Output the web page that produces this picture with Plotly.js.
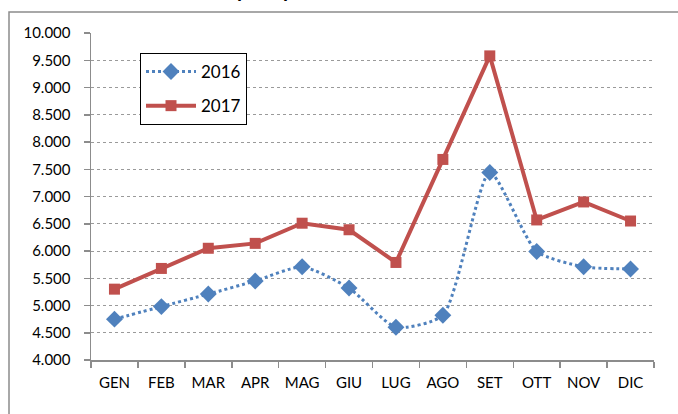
<!DOCTYPE html>
<html>
<head>
<meta charset="utf-8">
<script src="https://cdn.plot.ly/plotly-3.0.1.min.js"></script>
<style>html,body{margin:0;padding:0;background:#fff;}#chart{width:678px;height:414px;}</style>
</head>
<body>
<div id="chart"></div>
<script>
var months = ['GEN','FEB','MAR','APR','MAG','GIU','LUG','AGO','SET','OTT','NOV','DIC'];
var values2016 = [4750, 4980, 5210, 5450, 5710, 5320, 4600, 4820, 7440, 5990, 5710, 5670];
var values2017 = [5300, 5680, 6050, 6140, 6510, 6390, 5790, 7680, 9580, 6570, 6900, 6550];
var yTicks = [4000, 4500, 5000, 5500, 6000, 6500, 7000, 7500, 8000, 8500, 9000, 9500, 10000];
var chartTitle = 'Andamento spesa per mese a confronto, anni 2016 e 2017';

var W = 678, H = 414;
var L = 91, R = 24, T = 33, B = 54;
var pw = W - L - R, ph = H - T - B;
function px2x(p){ return (p - L) / pw; }
function px2y(p){ return (H - B - p) / ph; }

var fontFam = 'Lato, "Open Sans", sans-serif';

var traces = [
  {
    x: months, y: values2016, name: '2016', type: 'scatter', mode: 'lines+markers',
    legendgroup: 'a',
    line: {color: '#4F81BD', width: 3, dash: 'dot', shape: 'spline', smoothing: 0.6},
    marker: {symbol: 'diamond', size: 13, color: '#4F81BD'}
  },
  {
    x: months, y: values2017, name: '2017', type: 'scatter', mode: 'lines+markers',
    legendgroup: 'b',
    line: {color: '#C0504D', width: 4},
    marker: {symbol: 'square', size: 11, color: '#C0504D'}
  }
];

var layout = {
  width: W, height: H,
  margin: {l: L, r: R, t: T, b: B, pad: 0},
  paper_bgcolor: '#fff', plot_bgcolor: '#fff',
  separators: ',.',
  font: {family: fontFam, size: 14, color: '#000'},
  showlegend: true,
  legend: {
    x: px2x(140), y: px2y(53), xanchor: 'left', yanchor: 'top',
    bgcolor: '#fff', bordercolor: '#000', borderwidth: 1,
    font: {family: fontFam, size: 17, color: '#000'},
    itemwidth: 50,
    tracegroupgap: 9, traceorder: 'grouped'
  },
  xaxis: {
    type: 'category', range: [-0.5, 11.5], fixedrange: true,
    showline: true, linecolor: '#8c8c8c', linewidth: 1.5,
    ticks: 'outside', tickson: 'boundaries', ticklen: 6, tickcolor: '#8c8c8c', tickwidth: 1.5,
    showgrid: false, zeroline: false,
    tickfont: {family: fontFam, size: 15, color: '#000'},
    ticklabelstandoff: 8
  },
  yaxis: {
    range: [4000, 10000], fixedrange: true,
    tickvals: yTicks, tickformat: ',d',
    showline: true, linecolor: '#8c8c8c', linewidth: 1.5,
    ticks: 'outside', ticklen: 6, tickcolor: '#8c8c8c', tickwidth: 1.5,
    showgrid: true, gridcolor: '#9a9a9a', gridwidth: 1, griddash: 'dot',
    zeroline: false,
    tickfont: {family: fontFam, size: 15, color: '#000'},
    ticklabelstandoff: 10
  },
  shapes: [
    {type: 'rect', xref: 'paper', yref: 'paper',
     x0: px2x(9), x1: px2x(720), y0: px2y(440), y1: px2y(12),
     line: {color: '#8c8c8c', width: 1.5}, fillcolor: 'rgba(0,0,0,0)', layer: 'below'}
  ],
  annotations: [
    {text: '<b>' + chartTitle + '</b>', xref: 'paper', yref: 'paper',
     x: px2x(370), y: px2y(-9), xanchor: 'center', yanchor: 'middle',
     showarrow: false, font: {family: 'Liberation Sans, Arial, sans-serif', size: 18, color: '#000'}}
  ]
};

Plotly.newPlot('chart', traces, layout, {displayModeBar: false, staticPlot: true});
</script>
</body>
</html>
